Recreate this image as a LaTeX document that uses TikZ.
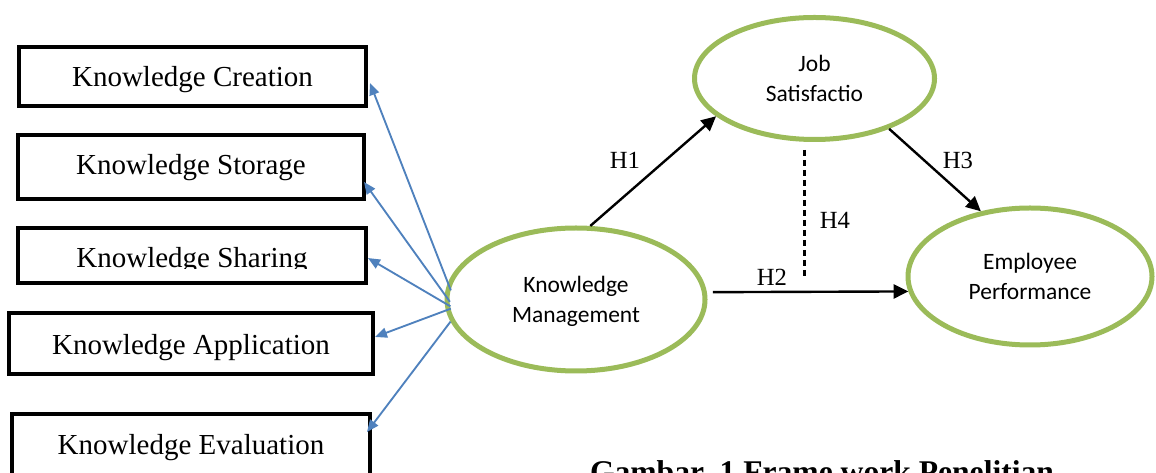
\documentclass[tikz,border=0pt]{standalone}
\usepackage{fontspec}
\setmainfont{Liberation Serif}
\newfontfamily\calibri{Carlito}
\usepackage{xcolor}
\usetikzlibrary{arrows.meta, shapes.geometric}
\definecolor{kmgreen}{HTML}{9BBB59}
\definecolor{kmblue}{HTML}{4F81BD}
\tikzset{
    kbox/.style={draw, line width=3pt, inner sep=0pt, text depth=0pt, font=\fontsize{21.75}{26}\selectfont},
    latent/.style={draw=kmgreen, ellipse, line width=3.75pt, inner sep=0pt, align=center, font=\calibri\fontsize{17.6}{22.5}\selectfont},
    toind/.style={kmblue, line width=1.4pt, -{Triangle[length=9pt,width=7.5pt]}},
    hyp/.style={line width=1.8pt, -{Triangle[length=11pt,width=10.5pt]}},
    hlab/.style={font=\fontsize{18.5}{22}\selectfont}
}

\begin{document}
\begin{tikzpicture}[x=0.75pt, y=-0.75pt]
        \useasboundingbox (0,0) rectangle (1156,473);
        \clip (0,0) rectangle (1156,473);
        \node[kbox, minimum width=260.25pt, minimum height=44.25pt, text height=15.75pt] (kcreate) at (192.5,76.5) {Knowledge Creation};
        \node[kbox, minimum width=259.5pt, minimum height=48pt, text height=12pt] (kstore) at (191,167) {Knowledge Storage};
        \node[kbox, minimum width=261pt, minimum height=41.25pt, text height=18.75pt] (kshare) at (192,255.5) {Knowledge Sharing};
        \fill[white] (21,269) rectangle (363,281);
        \node[kbox, minimum width=273pt, minimum height=45.75pt, text height=17.25pt] (kapply) at (191,343.5) {Knowledge Application};
        \node[kbox, minimum width=268.5pt, minimum height=46.5pt, text height=15pt] (keval) at (191,445) {Knowledge Evaluation};
        \node[latent, minimum width=180pt, minimum height=91.5pt, text depth=-6pt] (js) at (814.5,78.5) {Job\\Satisfactio};
        \node[latent, minimum width=193.5pt, minimum height=107.25pt, text depth=-2.5pt] (km) at (576,299.5) {Knowledge\\Management};
        \node[latent, minimum width=183pt, minimum height=102.75pt] (ep) at (1030,276.5) {Employee\\Performance};
        \draw[toind] ([xshift=4pt]km.176) -- ([shift={(1.5pt,-4.9pt)}]kcreate.east);
        \draw[toind] ([xshift=4pt]km.181) -- ([shift={(-1.5pt,-11.25pt)}]kstore.east);
        \draw[toind] ([xshift=4pt]km.183) -- ([yshift=-1.9pt]kshare.east);
        \draw[toind] ([xshift=4pt]km.184) -- ([yshift=4.9pt]kapply.east);
        \draw[toind] (km.190) -- ([shift={(-3.75pt,9.75pt)}]keval.east);
        \draw[hyp] (km.79) -- (js.201);
        \draw[hyp] (js.326) -- (ep.127);
        \draw[hyp] ([shift={(4pt,5.5pt)}]km.east) -- (ep.187);
        \draw[line width=2pt, dash pattern=on 4.5pt off 3pt] ([xshift=-7.5pt, yshift=-6pt]js.south) -- ++(0,130);
        \node[hlab] (h1) at (625,160) {H1};
        \node[hlab] (h2) at (772,277) {H2};
        \node[hlab] (h3) at (958,160) {H3};
        \node[hlab] (h4) at (835,220) {H4};
        \node[anchor=base, font=\bfseries\fontsize{23.7}{28}\selectfont] (cap) at (822,483) {Gambar. 1 Frame work Penelitian};
\end{tikzpicture}
\end{document}
